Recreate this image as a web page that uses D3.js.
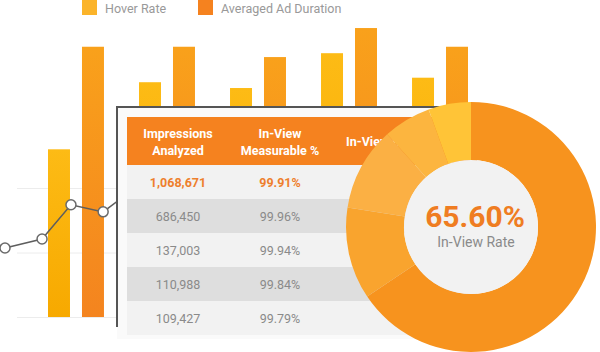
<!DOCTYPE html>
<html>
<head>
    <script src="https://cdn.jsdelivr.net/npm/d3@7/dist/d3.min.js"></script>
    <style>
        body { margin: 0; background: #fff; }
        text { font-family: Roboto, "Open Sans", sans-serif; }
    </style>
</head>
<body>
    <div id="chart"></div>
    <script>
        // bar groups (no visible labels)
        const categories = ["G1", "G2", "G3", "G4", "G5"];
        const hoverRate = [2.60, 3.64, 3.55, 4.09, 3.71];
        const adDuration = [4.19, 4.19, 4.03, 4.48, 4.19];
        const seriesNames = ["Hover Rate", "Averaged Ad Duration"];

        // trend line behind the table
        const lineX = [0, 1.14, 2.03, 3.02, 4];
        const lineY = [1.07, 1.21, 1.74, 1.63, 2.0];
        const gridTicks = [0, 1, 2];

        // table
        const tableHeaders = [["Impressions", "Analyzed"], ["In-View", "Measurable %"], ["In-View Rate"]];
        const impressions = ["1,068,671", "686,450", "137,003", "110,988", "109,427"];
        const measurable = ["99.91%", "99.96%", "99.94%", "99.84%", "99.79%"];
        const inViewRate = ["65.60%", "", "", "", ""];

        // donut
        const donutValues = [65.6, 11.9, 10.8, 6.2, 5.5];
        const donutLabel = "65.60%";
        const donutSub = "In-View Rate";

        const width = 600, height = 352;
        const svg = d3.select("#chart").append("svg")
            .attr("width", width).attr("height", height);

        const defs = svg.append("defs");
        function grad(id, top, bottom) {
            const g = defs.append("linearGradient").attr("id", id)
                .attr("x1", 0).attr("y1", 0).attr("x2", 0).attr("y2", 1);
            g.append("stop").attr("offset", "0%").attr("stop-color", top);
            g.append("stop").attr("offset", "100%").attr("stop-color", bottom);
        }
        grad("gYellow", "#FDBB15", "#F7A900");
        grad("gOrange", "#F9A11B", "#F4841F");

        const y = d3.scaleLinear().domain([0, 5]).range([317, -5.5]);
        const x0 = d3.scaleBand().domain(categories).range([48, 468])
            .paddingInner(0.385).paddingOuter(0);
        const x1 = d3.scaleBand().domain(seriesNames).range([0, x0.bandwidth()])
            .paddingInner(0.353).paddingOuter(0);
        const lx = d3.scaleLinear().domain([0, 4]).range([5, 135]);

        // gridlines
        svg.append("g")
            .attr("transform", "translate(117,0)")
            .call(d3.axisLeft(y).tickValues(gridTicks).tickSize(100).tickFormat(""))
            .call(g => g.select(".domain").remove())
            .call(g => g.selectAll("line").attr("stroke", "#ececec").attr("stroke-width", 1));

        // bars
        const groups = svg.append("g").selectAll("g")
            .data(categories)
            .join("g")
            .attr("transform", d => "translate(" + x0(d) + ",0)");
        groups.append("rect")
            .attr("x", x1(seriesNames[0]))
            .attr("width", x1.bandwidth())
            .attr("y", (d, i) => y(hoverRate[i]))
            .attr("height", (d, i) => y(0) - y(hoverRate[i]))
            .attr("fill", "url(#gYellow)");
        groups.append("rect")
            .attr("x", x1(seriesNames[1]))
            .attr("width", x1.bandwidth())
            .attr("y", (d, i) => y(adDuration[i]))
            .attr("height", (d, i) => y(0) - y(adDuration[i]))
            .attr("fill", "url(#gOrange)");

        // line
        const pts = lineX.map((v, i) => [lx(v), y(lineY[i])]);
        svg.append("path")
            .datum(pts)
            .attr("fill", "none")
            .attr("stroke", "#5e5e5e")
            .attr("stroke-width", 1.5)
            .attr("d", d3.line());
        svg.append("g").selectAll("circle")
            .data(pts)
            .join("circle")
            .attr("cx", d => d[0]).attr("cy", d => d[1])
            .attr("r", 5)
            .attr("fill", "#fff")
            .attr("stroke", "#6a6a6a")
            .attr("stroke-width", 1.5);

        // legend
        const legend = svg.append("g");
        const legendX = [82, 198];
        const legendColors = ["#FBB42A", "#F5821F"];
        seriesNames.forEach((name, i) => {
            legend.append("rect")
                .attr("x", legendX[i]).attr("y", 0)
                .attr("width", 15).attr("height", 15)
                .attr("fill", legendColors[i]);
            legend.append("text")
                .attr("x", legendX[i] + 23).attr("y", 13)
                .attr("font-size", 12.5)
                .attr("fill", "#999")
                .text(name);
        });

        // table frame
        const table = svg.append("g");
        table.append("rect")
            .attr("x", 117).attr("y", 107)
            .attr("width", 360).attr("height", 232)
            .attr("fill", "#fafafa");
        table.append("path")
            .attr("d", "M117,327 L117,107 L470,107")
            .attr("fill", "none")
            .attr("stroke", "#555")
            .attr("stroke-width", 2);

        const colX = d3.scalePoint().domain([0, 1, 2]).range([178, 382]);
        const rowY = d3.scaleBand().domain(d3.range(impressions.length)).range([165, 335]);

        table.append("rect")
            .attr("x", 127).attr("y", 117)
            .attr("width", 350).attr("height", 48)
            .attr("fill", "#F5821F");
        tableHeaders.forEach((lines, c) => {
            lines.forEach((t, k) => {
                table.append("text")
                    .attr("x", colX(c))
                    .attr("y", 146 + (k - (lines.length - 1) / 2) * 17)
                    .attr("text-anchor", "middle")
                    .attr("font-size", 12.5)
                    .attr("font-weight", "bold")
                    .attr("fill", "#fff")
                    .text(t);
            });
        });

        table.selectAll("rect.row")
            .data(impressions)
            .join("rect")
            .attr("class", "row")
            .attr("x", 127)
            .attr("y", (d, i) => rowY(i))
            .attr("width", 350)
            .attr("height", rowY.bandwidth())
            .attr("fill", (d, i) => i % 2 ? "#DEDEDE" : "#F2F2F2");

        [impressions, measurable, inViewRate].forEach((col, c) => {
            table.selectAll("text.c" + c)
                .data(col)
                .join("text")
                .attr("class", "c" + c)
                .attr("x", colX(c))
                .attr("y", (d, i) => rowY(i) + rowY.bandwidth() / 2 + 4.5)
                .attr("text-anchor", "middle")
                .attr("font-size", 12.5)
                .attr("font-weight", (d, i) => i === 0 ? "bold" : "normal")
                .attr("fill", (d, i) => i === 0 ? "#EE7F2D" : "#8a8a8a")
                .text(d => d);
        });

        // donut
        const donutColors = ["#F7931E", "#F9A42E", "#FBB044", "#FCB53F", "#FFC437"];
        const pie = d3.pie().sort(null);
        const arc = d3.arc().innerRadius(67).outerRadius(125);
        const donut = svg.append("g").attr("transform", "translate(471,227)");
        donut.selectAll("path")
            .data(pie(donutValues))
            .join("path")
            .attr("d", arc)
            .attr("fill", (d, i) => donutColors[i]);
        donut.append("circle").attr("r", 67).attr("fill", "#F2F2F2");
        donut.append("text")
            .attr("x", 4).attr("y", 0)
            .attr("text-anchor", "middle")
            .attr("font-size", 30)
            .attr("font-weight", "bold")
            .attr("fill", "#EF7D22")
            .text(donutLabel);
        donut.append("text")
            .attr("x", 5).attr("y", 20)
            .attr("text-anchor", "middle")
            .attr("font-size", 14)
            .attr("fill", "#8a8a8a")
            .text(donutSub);
    </script>
</body>
</html>
